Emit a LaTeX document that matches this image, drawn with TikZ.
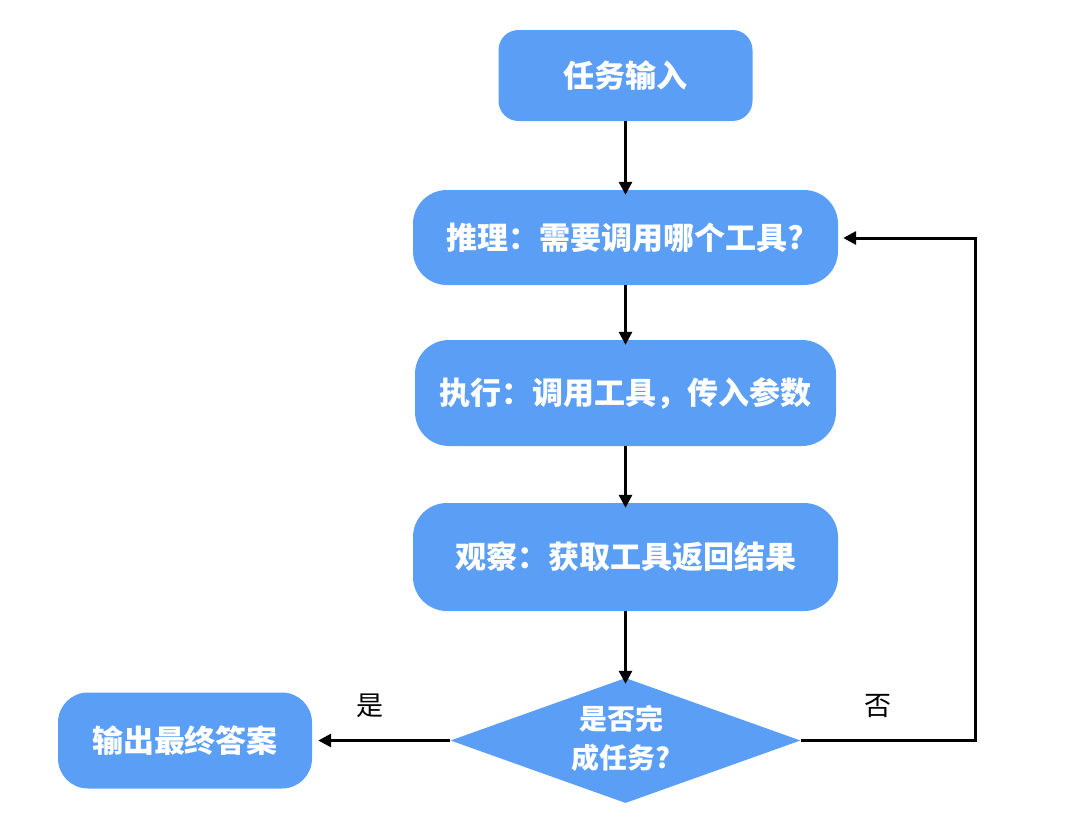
\documentclass[tikz,border=0pt]{standalone}
\usepackage{fontspec}
\setmainfont{Noto Sans CJK SC}
\usetikzlibrary{shapes.geometric,arrows.meta}
\definecolor{boxblue}{RGB}{91,158,245}
\begin{document}
\begin{tikzpicture}[x=1pt,y=-1pt,
  box/.style={fill=boxblue,draw=none,rectangle,text=white,font=\fontsize{31}{36}\selectfont\bfseries,inner sep=0pt},
  dec/.style={fill=boxblue,draw=none,diamond,inner sep=0pt,minimum width=350pt,minimum height=125pt,aspect=2.8},
  flow/.style={line width=3pt,-{Triangle[length=13pt,width=13pt]}},
  lbl/.style={font=\fontsize{27}{30}\selectfont}]
\useasboundingbox (0,0) rectangle (1072,822);
\node[box,minimum width=254pt,minimum height=91pt,rounded corners=20pt] (in) at (625.5,75.5) {任务输入};
\node[box,minimum width=425pt,minimum height=95pt,rounded corners=34pt] (think) at (625.5,237.5) {推理：需要调用哪个工具?};
\node[box,minimum width=421pt,minimum height=106pt,rounded corners=34pt] (act) at (625.5,393) {执行：调用工具，传入参数};
\node[box,minimum width=425pt,minimum height=108pt,rounded corners=34pt] (obs) at (625.5,557) {观察：获取工具返回结果};
\node[dec] (q) at (625.5,740.5) {};
\node[text=white,font=\fontsize{28}{39}\selectfont\bfseries,align=center] (qt) at (621,738) {是否完\\成任务?};
\node[box,minimum width=254pt,minimum height=96pt,rounded corners=30pt] (out) at (185,740.5) {输出最终答案};
\coordinate (r1) at (975,740.5);
\coordinate (r2) at (975,238);
\draw[flow] (in.south) -- ([yshift=-5pt]think.north);
\draw[flow] (think.south) -- ([yshift=-5pt]act.north);
\draw[flow] (act.south) -- ([yshift=-5pt]obs.north);
\draw[flow] (obs.south) -- ([yshift=-6pt]q.north);
\draw[flow] (q.west) -- ([xshift=6pt]out.east);
\draw[flow] (q.east) -- (r1) -- (r2) -- ([xshift=5pt]think.east|-r2);
\node[lbl] (yes) at (370,706) {是};
\node[lbl] (no) at (878,706) {否};
\end{tikzpicture}
\end{document}
